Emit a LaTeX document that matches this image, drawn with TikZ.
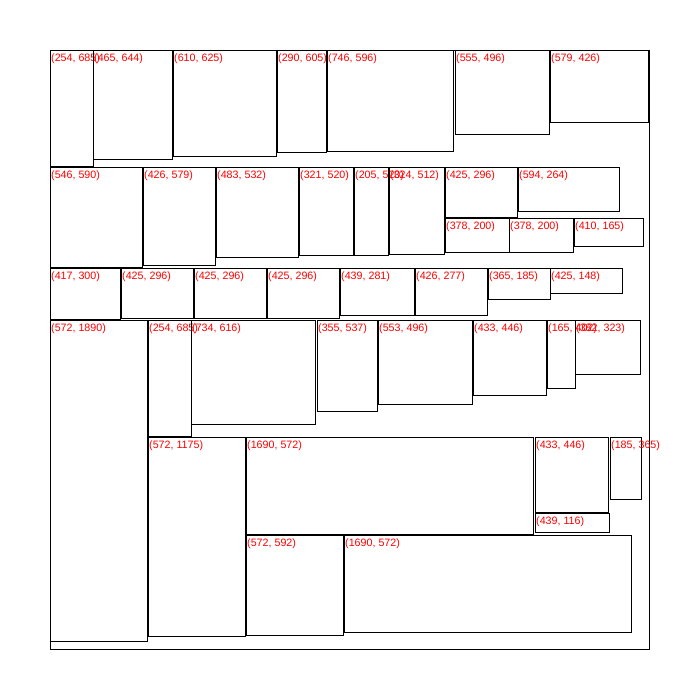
\documentclass[tikz,border=0pt]{standalone}
\usepackage{fontspec}
\setmainfont{Liberation Sans}
\usepackage{tikz}
\definecolor{LabelRed}{HTML}{FF0000}

\begin{document}
\begin{tikzpicture}[x=1pt, y=-1pt,
  boxline/.style={draw=black, line width=0.9pt},
  sizelabel/.style={anchor=north west, inner sep=1pt, yshift=-2.5pt, text=LabelRed, font=\fontsize{10.7}{12}\selectfont}]
  \useasboundingbox (0,0) rectangle (700,700);
  % outer sheet
  \draw[boxline] (50,50) rectangle (649,649);
  % placed boxes: left/top in px, width/height in units
  \foreach \bx/\by/\bw/\bh in {
      50/50/254/685, 93/50/465/644, 173/50/610/625, 277/50/290/605,
      327/50/746/596, 455/50/555/496, 550/50/579/426,
      50/167/546/590, 143/167/426/579, 216/167/483/532, 299/167/321/520,
      354/167/205/520, 389/167/324/512, 445/167/425/296, 518/167/594/264,
      445/218/378/200, 509/218/378/200, 574/218/410/165,
      50/268/417/300, 121/268/425/296, 194/268/425/296, 267/268/425/296,
      340/268/439/281, 415/268/426/277, 488/268/365/185, 550/268/425/148,
      50/320/572/1890, 148/320/254/685, 191/320/734/616, 317/320/355/537,
      378/320/553/496, 473/320/433/446, 547/320/165/402, 575/320/382/323,
      148/437/572/1175, 246/437/1690/572, 535/437/433/446, 610/437/185/365,
      535/513/439/116,
      246/535/572/592, 344/535/1690/572} {
    \draw[boxline] (\bx,\by) rectangle ++({\bw*0.17},{\bh*0.17});
    \node[sizelabel] at (\bx,\by) {(\bw, \bh)};
  }
\end{tikzpicture}
\end{document}
